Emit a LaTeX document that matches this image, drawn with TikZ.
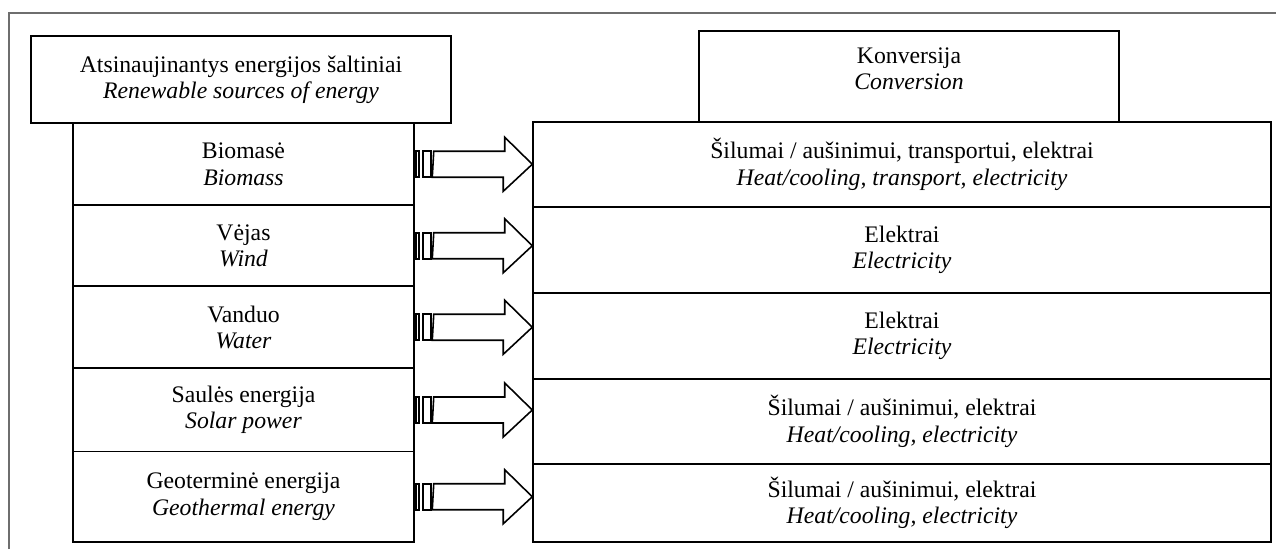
\documentclass[tikz,border=0pt]{standalone}
\usepackage{fontspec}
\setmainfont{Liberation Serif}
\usetikzlibrary{positioning}

\begin{document}
\begin{tikzpicture}
        [x=0.02cm,y=-0.02cm,
        box/.style={rectangle,draw=black,line width=0.9pt,inner sep=2pt,align=center,font=\fontsize{13.5}{15}\selectfont},
        headbox/.style={box,minimum width=8.4cm},
        srcbox/.style={box,minimum width=6.82cm},
        convbox/.style={box,minimum width=14.76cm},
        stub/.style={draw=black,line width=0.9pt,line join=miter},
        frame/.style={draw=black!57,line width=1.2pt}]

\useasboundingbox (0,0) rectangle (1276,549);
\draw[frame] (9,549) -- (9,13) -- (1276,13);

% sources
\node[headbox,minimum height=1.74cm] at (241,79.5) (title) {Atsinaujinantys energijos šaltiniai\\\textit{Renewable sources of energy}};

\node[srcbox,minimum height=1.65cm] at (243.5,164.25) (s1) {Biomasė\\\textit{Biomass}};
\node[srcbox,minimum height=1.62cm] at (243.5,245.75) (s2) {Vėjas\\\textit{Wind}};
\node[srcbox,minimum height=1.64cm] at (243.5,327.25) (s3) {Vanduo\\\textit{Water}};
\node[srcbox,minimum height=1.66cm] at (243.5,410) (s4) {Saulės energija\\\textit{Solar power}};
\node[srcbox,minimum height=1.81cm] at (243.5,496.75) (s5) {Geoterminė energija\\\textit{Geothermal energy}};

% conversion
\node[headbox,minimum height=1.82cm] at (909,76.5) (conv) {Konversija\\\textit{Conversion}\\[-6pt]\mbox{}};

\node[convbox,minimum height=1.70cm] at (902,164.5) (t1) {Šilumai / aušinimui, transportui, elektrai\\\textit{Heat/cooling, transport, electricity}};
\node[convbox,minimum height=1.72cm] at (902,250) (t2) {Elektrai\\\textit{Electricity}};
\node[convbox,minimum height=1.72cm] at (902,336) (t3) {Elektrai\\\textit{Electricity}};
\node[convbox,minimum height=1.70cm] at (902,421.5) (t4) {Šilumai / aušinimui, elektrai\\\textit{Heat/cooling, electricity}};
\node[convbox,minimum height=1.56cm] at (902,503) (t5) {Šilumai / aušinimui, elektrai\\\textit{Heat/cooling, electricity}};

%arrows
\foreach \i in {1,...,5} {
  \draw[stub] (s\i.east) ++(1,-13) rectangle ++(3,26);
  \draw[stub] (s\i.east) ++(8,-13) rectangle ++(8,26);
  \draw[stub] (s\i.east) ++(19,-13) -- ++(71,0) -- ++(0,-14) -- (s\i.east -| t\i.west)
      -- ++(-29,27) -- ++(0,-14) -- ++(-71,0) -- cycle;
}

\end{tikzpicture}
\end{document}
